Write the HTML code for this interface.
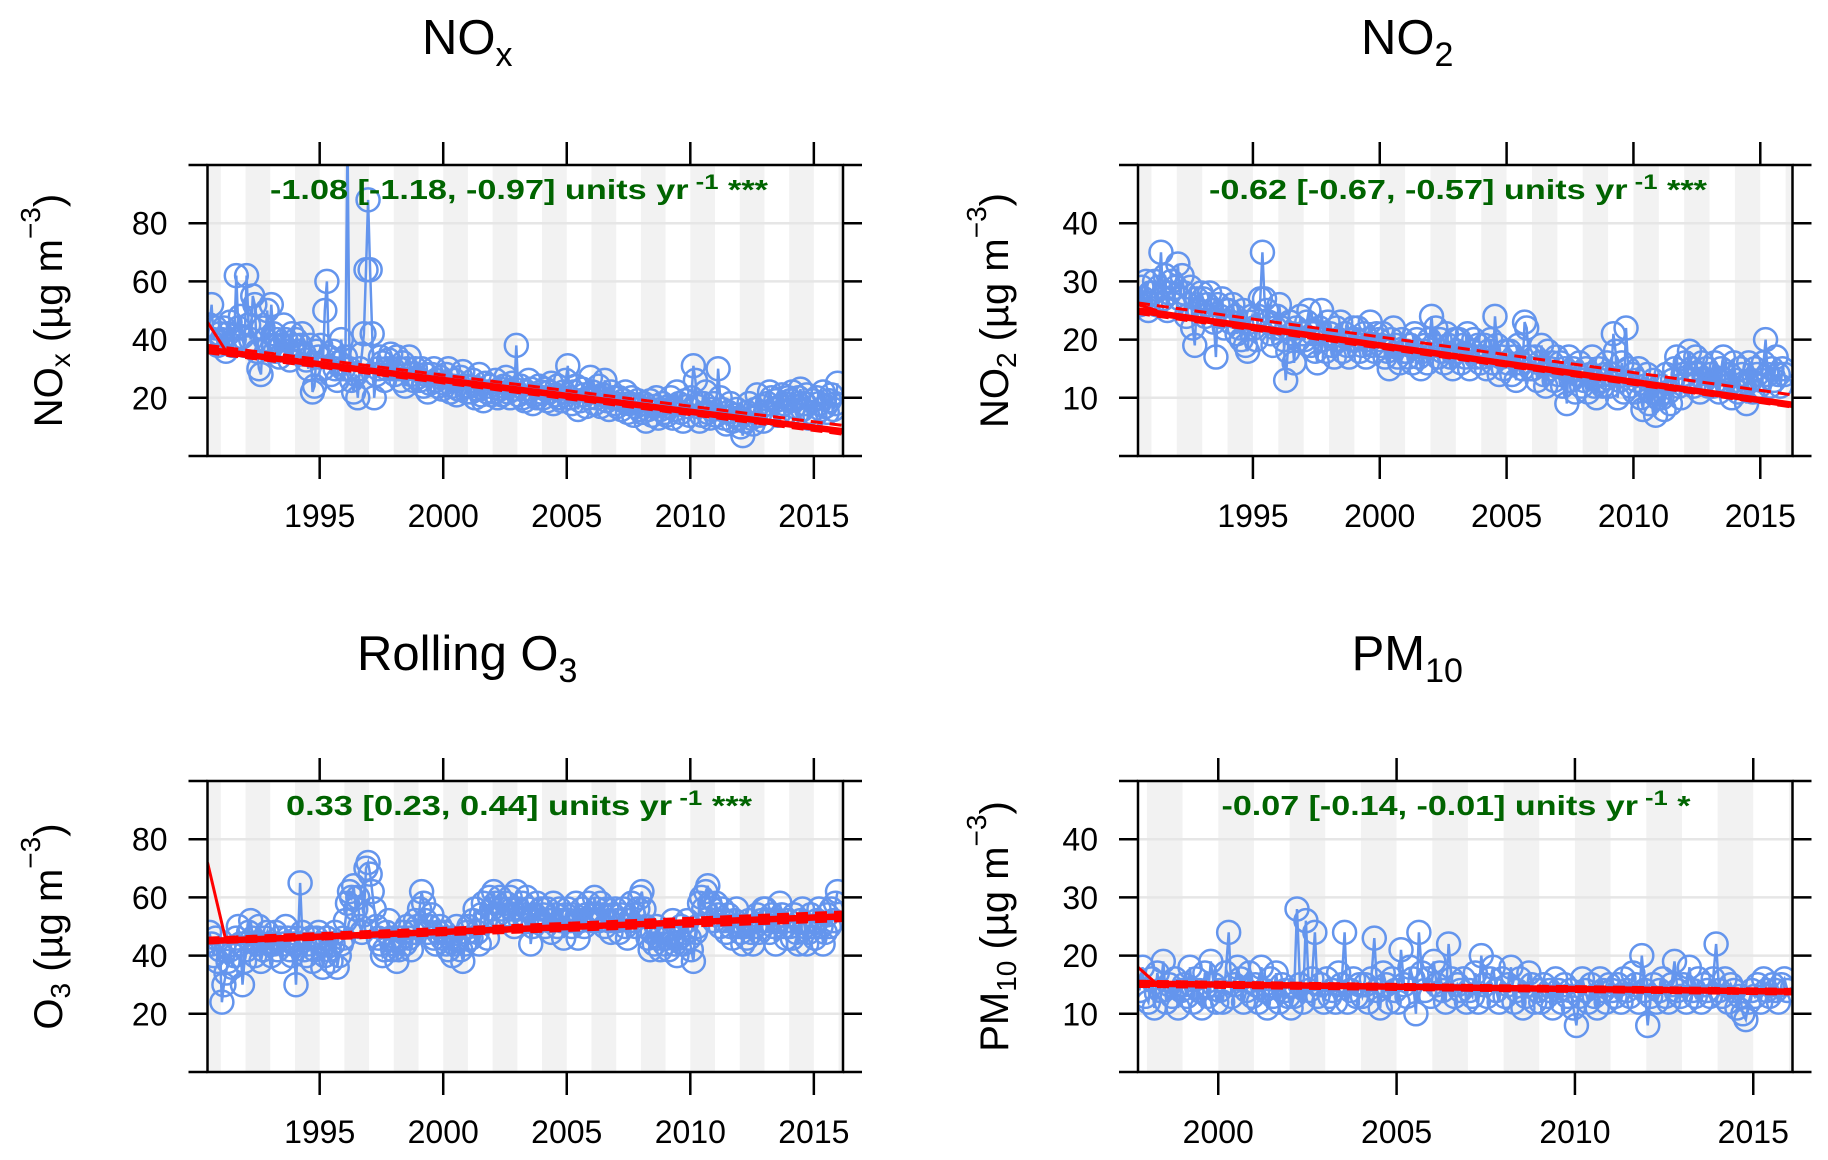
<!DOCTYPE html>
<html><head><meta charset="utf-8"><style>
html,body{margin:0;padding:0;background:#fff;}
svg{display:block;font-family:"Liberation Sans",Arial,sans-serif;}
</style></head><body>
<svg id="chart" width="1828" height="1160" viewBox="0 0 1828 1160" xmlns="http://www.w3.org/2000/svg"></svg>
<script>
// ---- data (monthly deseasonalised means) ----
const noxValues=[45,52,40,44,38,42,
40,44,36,42,46,38,40,62,44,48,41,38,
62,45,40,55,52,36,30,28,44,40,50,38,
52,42,36,40,34,38,45,40,36,33,42,38,
40,36,38,42,35,33,30,38,22,24,36,34,
38,30,50,60,34,28,36,30,26,32,40,30,
34,110,30,26,22,28,20,30,35,42,64,88,
64,42,20,28,30,34,32,26,30,33,35,30,
28,34,30,26,32,24,30,34,28,26,30,27,
26,30,24,28,22,25,28,30,26,24,27,23,
25,28,30,22,24,26,21,23,27,29,24,22,
24,22,26,20,23,28,21,19,25,22,24,21,
22,26,20,23,21,24,27,22,20,25,23,38,
21,24,20,19,22,26,23,18,21,20,24,22,
20,23,19,22,25,18,21,24,20,19,22,26,
31,20,18,22,24,16,19,23,21,17,20,27,
22,18,20,24,17,21,26,19,16,22,20,18,
17,20,16,19,22,15,18,20,14,17,19,16,
15,18,12,16,19,14,17,20,13,16,18,15,
14,17,20,13,16,22,18,15,12,19,17,14,
20,31,26,17,12,14,18,22,15,13,16,18,
14,30,20,16,13,11,15,18,12,14,16,13,
10,7,12,15,18,13,11,16,21,14,17,12,
15,18,22,20,16,19,14,17,21,18,15,20,
19,22,17,14,20,23,16,18,21,13,15,19,
14,20,18,16,22,17,15,19,21,16,18,25];
const no2Values=[26,29,27,30,25,28,
28,30,26,29,35,27,31,25,28,30,26,29,
33,27,31,28,24,26,29,22,19,27,25,28,
27,24,26,28,25,23,17,26,24,27,22,25,
25,23,26,24,21,22,20,25,19,18,23,24,
22,20,24,27,35,27,25,23,21,19,22,24,
26,22,20,13,18,23,21,16,22,20,24,21,
20,23,25,19,21,18,16,22,25,20,18,23,
21,19,17,22,20,23,18,21,19,17,20,22,
20,22,18,19,21,17,20,23,19,18,21,20,
19,21,17,18,15,20,22,19,17,16,20,18,
18,17,19,16,21,20,17,15,18,19,16,20,
24,19,22,17,20,18,16,21,19,17,15,20,
18,20,16,19,17,21,15,18,20,17,19,16,
17,19,15,18,20,16,24,19,14,17,15,18,
16,18,14,17,13,19,16,15,23,22,17,15,
15,17,13,16,19,14,12,18,15,16,13,17,
14,16,12,15,9,17,13,15,11,14,16,12,
13,15,11,14,17,12,10,15,13,12,14,16,
12,14,21,18,10,13,16,11,22,15,12,14,
11,13,15,10,8,12,14,9,11,13,7,10,
12,10,8,14,11,9,13,15,17,12,10,14,
16,13,18,15,12,17,14,11,16,13,15,12,
14,12,16,13,11,15,17,13,12,14,10,16,
13,11,15,14,12,9,16,13,11,15,14,12,
13,16,20,14,12,15,13,17,14,12,15,14];
const o3Values=[48,44,40,46,38,42,
24,30,34,38,42,36,40,46,50,44,30,38,
42,48,52,46,40,44,50,38,42,46,48,44,
40,44,48,42,46,38,44,50,46,42,40,44,
30,46,65,48,42,40,44,46,38,42,46,48,
44,36,40,46,42,38,44,48,36,40,44,46,
52,58,62,60,64,56,60,50,48,54,70,72,
68,62,56,50,46,44,40,42,48,52,46,42,
44,38,42,46,48,44,50,46,42,48,52,50,
56,62,58,52,48,50,54,46,44,48,50,46,
48,44,42,46,40,44,50,46,42,38,44,48,
50,46,52,56,48,44,54,58,52,46,60,56,
62,58,54,60,56,52,58,54,60,56,50,62,
56,52,58,54,60,56,44,50,54,58,52,56,
54,50,56,52,48,58,54,50,56,52,46,54,
56,52,50,54,58,46,52,56,50,54,58,52,
54,60,56,52,58,54,50,56,52,48,54,56,
52,48,54,56,50,46,52,58,54,50,56,60,
62,56,50,46,42,48,44,50,46,42,48,44,
46,42,48,52,44,40,46,50,44,48,52,46,
42,38,48,50,58,60,56,62,64,58,56,52,
58,54,50,56,52,48,54,50,46,52,56,50,
48,44,50,46,52,48,44,50,54,48,52,56,
56,52,48,54,50,44,52,58,54,50,46,52,
50,46,54,48,44,52,56,50,44,48,54,50,
46,52,56,50,44,48,54,50,56,52,58,62];
const pm10Values=[14,18,13,
12,16,11,17,14,19,12,15,13,16,11,14,
15,13,18,12,16,14,11,17,13,19,15,12,
14,12,17,24,13,15,18,16,12,14,17,13,
15,12,18,14,11,16,13,17,12,15,14,13,
11,13,28,15,12,26,14,16,24,13,15,12,
16,13,14,12,17,15,24,12,14,16,13,15,
13,15,12,16,23,14,11,17,15,12,16,14,
12,21,15,13,18,16,10,24,17,14,16,13,
19,15,17,14,12,22,16,13,15,14,16,12,
14,13,17,12,20,15,13,16,18,14,12,16,
13,15,18,12,14,16,11,13,17,15,12,14,
12,15,13,14,11,16,14,12,15,13,14,11,
8,13,16,14,12,15,13,11,16,14,12,15,
14,13,15,12,16,14,13,17,15,12,20,14,
8,13,15,12,14,16,13,12,15,19,14,13,
15,12,18,14,13,16,12,15,14,13,16,22,
14,13,16,12,15,14,11,13,10,9,12,14,
13,15,12,16,14,13,15,14,12,15,16,14];
const seriesStart=[1990.5,1990.5,1990.5,1997.75];
// trend: [startValue, endValue], CI upper/lower [start,end]
const trendMain=[[36.5,8.5],[25,8.8],[45,53.5],[15.2,13.8]];
const trendUpper=[[38,10.5],[26.3,10.5],[46,55],[15.6,14.2]];
const trendLower=[[35.5,7.5],[24.5,8.4],[44.3,52],[14.7,13.4]];
const trendSpike=[[46,36],[26,25],[72,45],[18,15]];
const yTickValues=[[0,20,40,60,80,100],[0,10,20,30,40,50],[0,20,40,60,80,100],[0,10,20,30,40,50]];
const yTickLabels=[["","20","40","60","80",""],["","10","20","30","40",""],["","20","40","60","80",""],["","10","20","30","40",""]];
const xTickValues=[[1995,2000,2005,2010,2015],[1995,2000,2005,2010,2015],[1995,2000,2005,2010,2015],[2000,2005,2010,2015]];
const slopeText=["-1.08 [-1.18, -0.97] units yr","-0.62 [-0.67, -0.57] units yr","0.33 [0.23, 0.44] units yr","-0.07 [-0.14, -0.01] units yr"];
const starText=[" ***"," ***"," ***"," *"];

const panels=[
 {key:"nox",vals:noxValues,bx0:207.5,bx1:843,by0:165,by1:456,xmin:1990.46,xmax:2016.18,ymax:100,title:["NO","x"],ylab:["NO","x"],annW:498,annX:519},
 {key:"no2",vals:no2Values,bx0:1138,bx1:1792.5,by0:165,by1:456,xmin:1990.47,xmax:2016.27,ymax:50,title:["NO","2"],ylab:["NO","2"],annW:498,annX:1458},
 {key:"o3",vals:o3Values,bx0:207.5,bx1:843,by0:781,by1:1072,xmin:1990.46,xmax:2016.18,ymax:100,title:["Rolling O","3"],ylab:["O","3"],annW:466,annX:519},
 {key:"pm10",vals:pm10Values,bx0:1138,bx1:1792.5,by0:781,by1:1072,xmin:1997.75,xmax:2016.1,ymax:50,title:["PM","10"],ylab:["PM","10"],annW:469,annX:1456}
];
const NS="http://www.w3.org/2000/svg";
const svg=document.getElementById("chart");
function mk(tag,attrs,parent){const e=document.createElementNS(NS,tag);for(const k in attrs)e.setAttribute(k,attrs[k]);(parent||svg).appendChild(e);return e;}

panels.forEach((p,pi)=>{
 const g=mk("g",{});
 
 
 const xs=v=>p.bx0+(v-p.xmin)/(p.xmax-p.xmin)*(p.bx1-p.bx0);
 const ys=v=>p.by1-v/p.ymax*(p.by1-p.by0);
 const clipId="clip"+pi;
 const cp=mk("clipPath",{id:clipId},g);
 mk("rect",{x:p.bx0,y:p.by0,width:p.bx1-p.bx0,height:p.by1-p.by0},cp);
 for(let yr=Math.floor(p.xmin);yr<p.xmax;yr++){
  if(yr%2!==0)continue;
  const a=Math.max(xs(yr),p.bx0),b=Math.min(xs(yr+1),p.bx1);
  const s=mk("rect",{x:a,y:p.by0,width:b-a,height:p.by1-p.by0,fill:"#f2f2f2"},g);
  
  
 }
 yTickValues[pi].forEach(v=>{
  const gl=mk("line",{x1:p.bx0,x2:p.bx1,y1:ys(v),y2:ys(v),stroke:"#e6e6e6","stroke-width":2.5},g);
  
  
 });
 const dg=mk("g",{"clip-path":"url(#"+clipId+")"},g);
 const t=i=>seriesStart[pi]+i/12+1/24;
 const pts=p.vals.map((v,i)=>xs(t(i)).toFixed(1)+","+ys(v).toFixed(1)).join(" ");
 const pl=mk("polyline",{points:pts,fill:"none",stroke:"#6495ED","stroke-width":2.5},dg);
 
 
 p.vals.forEach((v,i)=>{
  const c=mk("circle",{cx:xs(t(i)),cy:ys(v),r:11.5,fill:"none",stroke:"#6495ED","stroke-width":2.5},dg);
  
  
 });
 const ts=mk("line",{x1:xs(p.xmin),y1:ys(trendSpike[pi][0]),x2:xs(p.xmin+(pi===3?0.55:0.75)),y2:ys(trendSpike[pi][1]),stroke:"#ff0000","stroke-width":3},dg);
 
 
 [[trendUpper,"12,7",3,'trend-ci-upper'],[trendLower,"12,7",3,'trend-ci-lower'],[trendMain,null,6.5,'trend-line']].forEach(([arr,dash,w,nm])=>{
  const a={x1:xs(p.xmin),y1:ys(arr[pi][0]),x2:xs(p.xmax),y2:ys(arr[pi][1]),stroke:"#ff0000","stroke-width":w};
  if(dash)a["stroke-dasharray"]=dash;
  const l=mk("line",a,dg);
  
  
 });
 const bx=mk("rect",{x:p.bx0,y:p.by0,width:p.bx1-p.bx0,height:p.by1-p.by0,fill:"none",stroke:"#000","stroke-width":2.5},g);
 
 
 yTickValues[pi].forEach((v,k)=>{
  mk("line",{x1:p.bx0-19,x2:p.bx0,y1:ys(v),y2:ys(v),stroke:"#000","stroke-width":2.5},g);
  mk("line",{x1:p.bx1,x2:p.bx1+19,y1:ys(v),y2:ys(v),stroke:"#000","stroke-width":2.5},g);
  if(yTickLabels[pi][k]){
   const tl=mk("text",{x:p.bx0-40,y:ys(v)+11.5,"text-anchor":"end","font-size":32,fill:"#000"},g);
   tl.textContent=yTickLabels[pi][k];
   
   
  }
 });
 xTickValues[pi].forEach(v=>{
  mk("line",{x1:xs(v),x2:xs(v),y1:p.by0-23,y2:p.by0,stroke:"#000","stroke-width":2.5},g);
  mk("line",{x1:xs(v),x2:xs(v),y1:p.by1,y2:p.by1+23,stroke:"#000","stroke-width":2.5},g);
  const tl=mk("text",{x:xs(v),y:p.by1+71,"text-anchor":"middle","font-size":32,fill:"#000"},g);
  tl.textContent=v;
  
  
 });
 const an=mk("text",{x:p.annX,y:p.by0+34,"text-anchor":"middle","font-size":28,"font-weight":"bold",fill:"#006400",textLength:p.annW,lengthAdjust:"spacingAndGlyphs"},g);
 
 
 const a1=mk("tspan",{},an);a1.textContent=slopeText[pi];
 const a2=mk("tspan",{dy:-10,"font-size":21},an);a2.textContent=" -1";
 const a3=mk("tspan",{dy:10},an);a3.textContent=starText[pi];
 const tt=mk("text",{x:(p.bx0+p.bx1)/2-58,y:p.by0-111,"text-anchor":"middle","font-size":49,fill:"#000"},g);
 
 
 const t1=mk("tspan",{},tt);t1.textContent=p.title[0];
 const t2=mk("tspan",{dy:12,"font-size":34},tt);t2.textContent=p.title[1];
 const yx=(pi%2===0)?62:1008, yc=(p.by0+p.by1)/2;
 const yt=mk("text",{x:yx,y:yc,"text-anchor":"middle","font-size":40,fill:"#000",transform:"rotate(-90 "+yx+" "+yc+")"},g);
 
 
 const y1=mk("tspan",{},yt);y1.textContent=p.ylab[0];
 const y2=mk("tspan",{dy:8,"font-size":28},yt);y2.textContent=p.ylab[1];
 const y3=mk("tspan",{dy:-8},yt);y3.textContent=" (\u00b5g m";
 const y4=mk("tspan",{dy:-22,"font-size":28},yt);y4.textContent="\u22123";
 const y5=mk("tspan",{dy:22},yt);y5.textContent=")";
});
</script>
</body></html>
